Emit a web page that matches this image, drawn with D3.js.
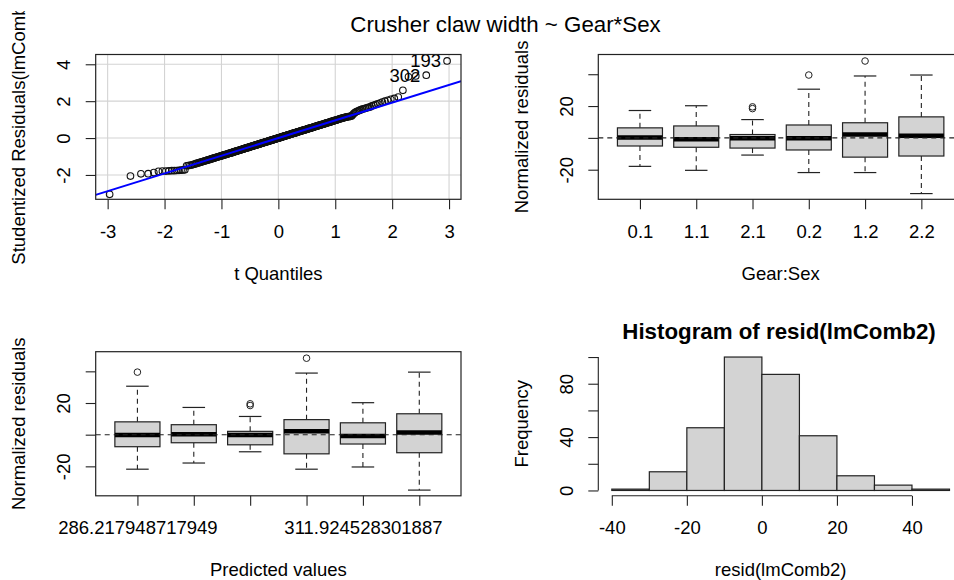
<!DOCTYPE html>
<html><head><meta charset="utf-8">
<script src="https://cdn.jsdelivr.net/npm/d3@7"></script>
<style>
body{margin:0;background:#fff}
svg{display:block}
text{font-family:"Liberation Sans",Arial,sans-serif;fill:#000}
</style>
</head><body>
<svg id="c" width="954" height="580"></svg>
<script>
// ---------------- DATA ----------------
const mainTitle = "Crusher claw width ~ Gear*Sex";

// sorted studentized residuals (QQ plot, n = 306)
const studRes = [
 -3.05,-2.06,-1.94,-1.93,-1.87,-1.80,-1.79,-1.79,-1.78,-1.77,
 -1.77,-1.76,-1.75,-1.74,-1.73,-1.72,-1.50,-1.49,-1.48,-1.46,
 -1.44,-1.42,-1.39,-1.37,-1.35,-1.33,-1.31,-1.29,-1.27,-1.25,
 -1.23,-1.22,-1.20,-1.18,-1.17,-1.15,-1.13,-1.12,-1.10,-1.09,
 -1.07,-1.06,-1.04,-1.03,-1.02,-1.00,-0.99,-0.98,-0.96,-0.95,
 -0.94,-0.92,-0.91,-0.90,-0.89,-0.88,-0.87,-0.85,-0.84,-0.83,
 -0.82,-0.81,-0.80,-0.79,-0.78,-0.76,-0.75,-0.74,-0.73,-0.72,
 -0.71,-0.70,-0.69,-0.68,-0.67,-0.66,-0.65,-0.64,-0.63,-0.62,
 -0.61,-0.60,-0.59,-0.58,-0.57,-0.56,-0.55,-0.54,-0.53,-0.52,
 -0.52,-0.51,-0.50,-0.49,-0.48,-0.47,-0.46,-0.45,-0.44,-0.43,
 -0.43,-0.42,-0.41,-0.40,-0.39,-0.38,-0.37,-0.37,-0.36,-0.35,
 -0.34,-0.33,-0.32,-0.32,-0.31,-0.30,-0.29,-0.28,-0.27,-0.27,
 -0.26,-0.25,-0.24,-0.23,-0.22,-0.22,-0.21,-0.20,-0.19,-0.19,
 -0.18,-0.17,-0.16,-0.15,-0.14,-0.14,-0.13,-0.12,-0.11,-0.11,
 -0.10,-0.09,-0.08,-0.07,-0.07,-0.06,-0.05,-0.04,-0.03,-0.03,
 -0.02,-0.01,0.00,0.01,0.01,0.02,0.03,0.04,0.04,0.05,
 0.06,0.07,0.08,0.09,0.09,0.10,0.11,0.12,0.12,0.13,
 0.14,0.15,0.16,0.17,0.17,0.18,0.19,0.20,0.20,0.21,
 0.22,0.23,0.24,0.25,0.25,0.26,0.27,0.28,0.28,0.29,
 0.30,0.31,0.32,0.33,0.34,0.34,0.35,0.36,0.37,0.38,
 0.39,0.40,0.40,0.41,0.42,0.43,0.44,0.45,0.45,0.46,
 0.47,0.48,0.49,0.50,0.51,0.52,0.53,0.53,0.54,0.55,
 0.56,0.57,0.58,0.59,0.60,0.61,0.62,0.63,0.64,0.65,
 0.66,0.67,0.68,0.69,0.70,0.71,0.72,0.73,0.74,0.75,
 0.76,0.77,0.78,0.80,0.81,0.82,0.83,0.84,0.85,0.86,
 0.87,0.89,0.90,0.91,0.92,0.94,0.95,0.96,0.97,0.99,
 1.00,1.02,1.03,1.05,1.06,1.07,1.09,1.10,1.11,1.13,
 1.14,1.15,1.16,1.17,1.18,1.20,1.26,1.33,1.38,1.42,
 1.45,1.48,1.51,1.54,1.57,1.59,1.61,1.64,1.66,1.69,
 1.74,1.78,1.82,1.86,1.90,1.95,2.00,2.05,2.10,2.15,
 2.22,2.59,3.32,3.37,3.41,4.18
];
const tDf = 299;
const qqLineSlope = 0.96, qqLineIntercept = 0.0;
const qqPointLabels = [{rank: 306, label: "193"}, {rank: 305, label: "302"}];
const qqXDomain = [-3.21, 3.21], qqYDomain = [-3.32, 4.53];
const qqXTicks = [-3, -2, -1, 0, 1, 2, 3];
const qqYTicks = [-2, 0, 2, 4];
const qqXTitle = "t Quantiles";
const qqYTitle = "Studentized Residuals(lmComb2)";

// boxplots of normalized residuals by Gear:Sex
const groupLabels  = ["0.1", "1.1", "2.1", "0.2", "1.2", "2.2"];
const whiskerLow   = [-17.9, -20.4, -10.8, -21.8, -21.8, -35.0];
const quartile1    = [ -5.1,  -5.9,  -6.4,  -7.6, -12.1, -11.4];
const medians      = [  0.3,  -0.9,  -0.2,  -0.2,   2.2,   1.3];
const quartile3    = [  6.3,   7.5,   2.1,   8.1,   9.5,  13.2];
const whiskerHigh  = [ 17.2,  20.2,  11.5,  30.6,  38.9,  39.5];
const outliers     = [[], [], [18.4, 19.5], [39.5], [48.3], []];
const resYDomain = [-38.6, 52.4];
const resYTicks = [-20, 0, 20, 40];
const resYTickLabels = ["-20", "", "20", ""];
const resYTitle = "Normalized residuals";
const gearSexTitle = "Gear:Sex";
// order of groups by predicted value, and the predicted-value tick labels R kept
const predictedOrder = [3, 0, 2, 4, 1, 5];
const predictedLabels = ["286.217948717949", "", "", "", "311.924528301887", ""];
const predictedTitle = "Predicted values";

// histogram of resid(lmComb2)
const histTitle = "Histogram of resid(lmComb2)";
const histBreaks = [-40, -30, -20, -10, 0, 10, 20, 30, 40, 50];
const histCounts = [1, 14, 47, 100, 87, 41, 11, 4, 1];
const histXTicks = [-40, -20, 0, 20, 40];
const histXTickLabels = ["-40", "-20", "0", "20", "40"];
const histYTicks = [0, 20, 40, 60, 80, 100];
const histYTickLabels = ["0", "", "40", "", "80", ""];
const histXTitle = "resid(lmComb2)";
const histYTitle = "Frequency";

// ---------------- HELPERS ----------------
const FONT = '"Liberation Sans", Arial, sans-serif';
const FS = 18.5, FT = 22.3;
const ink = "#222";
const svg = d3.select("#c");
const Lc = {x0: 95.7, x1: 461}, Rc = {x0: 598.3, x1: 963};
const Tr = {y0: 54.5, y1: 199.3}, Br = {y0: 351.7, y1: 495.8};

function qnorm(p) {
  const a=[-3.969683028665376e+01,2.209460984245205e+02,-2.759285104469687e+02,1.383577518672690e+02,-3.066479806614716e+01,2.506628277459239e+00];
  const b=[-5.447609879822406e+01,1.615858368580409e+02,-1.556989798598866e+02,6.680131188771972e+01,-1.328068155288572e+01];
  const c=[-7.784894002430293e-03,-3.223964580411365e-01,-2.400758277161838e+00,-2.549732539343734e+00,4.374664141464968e+00,2.938163982698783e+00];
  const d=[7.784695709041462e-03,3.224671290700398e-01,2.445134137142996e+00,3.754408661907416e+00];
  const pl=0.02425;
  let q,r;
  if(p<pl){q=Math.sqrt(-2*Math.log(p));return (((((c[0]*q+c[1])*q+c[2])*q+c[3])*q+c[4])*q+c[5])/((((d[0]*q+d[1])*q+d[2])*q+d[3])*q+1);}
  if(p>1-pl){q=Math.sqrt(-2*Math.log(1-p));return -(((((c[0]*q+c[1])*q+c[2])*q+c[3])*q+c[4])*q+c[5])/((((d[0]*q+d[1])*q+d[2])*q+d[3])*q+1);}
  q=p-0.5;r=q*q;
  return (((((a[0]*r+a[1])*r+a[2])*r+a[3])*r+a[4])*r+a[5])*q/(((((b[0]*r+b[1])*r+b[2])*r+b[3])*r+b[4])*r+1);
}
function qt(p, df) {
  const z = qnorm(p), z3 = z*z*z, z5 = z3*z*z;
  return z + (z3+z)/(4*df) + (5*z5+16*z3+3*z)/(96*df*df);
}

function xAxis(scale, ticks, labels, y, lineFromTo) {
  const ax = d3.axisBottom(scale).tickValues(ticks).tickSize(10).tickFormat((d,i)=>labels[i]);
  const g = svg.append("g").attr("transform", `translate(0,${y})`).call(ax)
    .attr("font-size", FS).attr("font-family", FONT);
  g.select(".domain").remove();
  g.selectAll(".tick line").attr("stroke", ink).attr("stroke-width", 1.1);
  g.selectAll(".tick text").attr("y", 38.3).attr("dy", null).attr("fill", "#000");
  if (lineFromTo) g.append("line").attr("x1", scale(lineFromTo[0])).attr("x2", scale(lineFromTo[1]))
      .attr("stroke", ink).attr("stroke-width", 1.1);
}
function yAxis(scale, ticks, labels, x, lineFromTo) {
  const ax = d3.axisLeft(scale).tickValues(ticks).tickSize(10).tickFormat((d,i)=>labels[i]);
  const g = svg.append("g").attr("transform", `translate(${x},0)`).call(ax)
    .attr("font-size", FS).attr("font-family", FONT);
  g.select(".domain").remove();
  g.selectAll(".tick line").attr("stroke", ink).attr("stroke-width", 1.1);
  g.selectAll(".tick text").attr("x", 0).attr("dy", null).attr("fill", "#000")
    .attr("text-anchor", "middle").attr("transform", "translate(-25.5,0) rotate(-90)");
  if (lineFromTo) g.append("line").attr("y1", scale(lineFromTo[0])).attr("y2", scale(lineFromTo[1]))
      .attr("stroke", ink).attr("stroke-width", 1.1);
}
function frame(c, r) {
  svg.append("rect").attr("x", c.x0).attr("y", r.y0).attr("width", c.x1-c.x0).attr("height", r.y1-r.y0)
    .attr("fill", "none").attr("stroke", ink).attr("stroke-width", 1.2);
}
function xTitle(txt, c, r) {
  svg.append("text").attr("x", (c.x0+c.x1)/2).attr("y", r.y1+80.5).attr("text-anchor", "middle")
    .attr("font-size", FS).text(txt);
}
function yTitle(txt, c, r, clip) {
  const t = svg.append("text").attr("text-anchor", "middle").attr("font-size", FS)
    .attr("transform", `translate(${c.x0-70.5},${(r.y0+r.y1)/2}) rotate(-90)`).text(txt);
  if (clip) {
    const g = svg.append("g").attr("clip-path", "url(#clipTL)");
    g.node().appendChild(t.node());
  }
}
svg.append("defs").append("clipPath").attr("id", "clipTL")
  .append("rect").attr("x", 0).attr("y", 11).attr("width", 480).attr("height", 280);

// ---------------- MAIN TITLE ----------------
svg.append("text").attr("x", 505.5).attr("y", 31.5).attr("text-anchor", "middle")
  .attr("font-size", FT).text(mainTitle);

// ---------------- PANEL 1: QQ plot ----------------
{
  const n = studRes.length;
  const pts = studRes.map((v, i) => ({x: qt((i + 0.5) / n, tDf), y: v, rank: i + 1}));
  const xs = d3.scaleLinear().domain(qqXDomain).range([Lc.x0, Lc.x1]);
  const ys = d3.scaleLinear().domain(qqYDomain).range([Tr.y1, Tr.y0]);
  const grid = svg.append("g").attr("stroke", "#d3d3d3").attr("stroke-width", 1.1);
  qqXTicks.forEach(t => grid.append("line").attr("x1", xs(t)).attr("x2", xs(t)).attr("y1", Tr.y0).attr("y2", Tr.y1));
  qqYTicks.forEach(t => grid.append("line").attr("y1", ys(t)).attr("y2", ys(t)).attr("x1", Lc.x0).attr("x2", Lc.x1));
  svg.append("g").selectAll("circle").data(pts).join("circle")
    .attr("cx", d => xs(d.x)).attr("cy", d => ys(d.y)).attr("r", 3.3)
    .attr("fill", "none").attr("stroke", "#111").attr("stroke-width", 1.1);
  svg.append("defs").append("clipPath").attr("id", "clipQQ").append("rect")
    .attr("x", Lc.x0).attr("y", Tr.y0).attr("width", Lc.x1 - Lc.x0).attr("height", Tr.y1 - Tr.y0);
  svg.append("line").attr("clip-path", "url(#clipQQ)")
    .attr("x1", xs(qqXDomain[0])).attr("y1", ys(qqLineIntercept + qqLineSlope * qqXDomain[0]))
    .attr("x2", xs(qqXDomain[1])).attr("y2", ys(qqLineIntercept + qqLineSlope * qqXDomain[1]))
    .attr("stroke", "#0000ff").attr("stroke-width", 2);
  qqPointLabels.forEach(l => {
    const p = pts[l.rank - 1];
    svg.append("text").attr("x", xs(p.x) - 6).attr("y", ys(p.y)).attr("dy", "0.35em")
      .attr("text-anchor", "end").attr("font-size", FS).text(l.label);
  });
  frame(Lc, Tr);
  xAxis(xs, qqXTicks, qqXTicks.map(String), Tr.y1);
  yAxis(ys, qqYTicks, qqYTicks.map(String), Lc.x0);
  xTitle(qqXTitle, Lc, Tr);
  yTitle(qqYTitle, Lc, Tr, true);
}

// ---------------- BOX PANELS ----------------
function boxPanel(c, r, order, tickLabels, xt) {
  const xs = d3.scaleLinear().domain([0.26, 6.74]).range([c.x0, c.x1]);
  const ys = d3.scaleLinear().domain(resYDomain).range([r.y1, r.y0]);
  const unit = xs(1) - xs(0);
  const bw = 0.8 * unit / 2, cw = 0.4 * unit / 2;
  const g = svg.append("g");
  order.forEach((gi, k) => {
    const cx = xs(k + 1);
    g.append("line").attr("x1", cx).attr("x2", cx).attr("y1", ys(quartile3[gi])).attr("y2", ys(whiskerHigh[gi]))
      .attr("stroke", ink).attr("stroke-width", 1.1).attr("stroke-dasharray", "5,4");
    g.append("line").attr("x1", cx).attr("x2", cx).attr("y1", ys(quartile1[gi])).attr("y2", ys(whiskerLow[gi]))
      .attr("stroke", ink).attr("stroke-width", 1.1).attr("stroke-dasharray", "5,4");
    [whiskerHigh[gi], whiskerLow[gi]].forEach(v =>
      g.append("line").attr("x1", cx - cw).attr("x2", cx + cw).attr("y1", ys(v)).attr("y2", ys(v))
        .attr("stroke", ink).attr("stroke-width", 1.2));
    g.append("rect").attr("x", cx - bw).attr("width", 2 * bw)
      .attr("y", ys(quartile3[gi])).attr("height", ys(quartile1[gi]) - ys(quartile3[gi]))
      .attr("fill", "#d3d3d3").attr("stroke", ink).attr("stroke-width", 1.2);
    g.append("line").attr("x1", cx - bw).attr("x2", cx + bw).attr("y1", ys(medians[gi])).attr("y2", ys(medians[gi]))
      .attr("stroke", "#000").attr("stroke-width", 4.5);
    outliers[gi].forEach(v => g.append("circle").attr("cx", cx).attr("cy", ys(v)).attr("r", 3.3)
      .attr("fill", "none").attr("stroke", ink).attr("stroke-width", 1));
  });
  svg.append("line").attr("x1", c.x0).attr("x2", c.x1).attr("y1", ys(0)).attr("y2", ys(0))
    .attr("stroke", ink).attr("stroke-width", 1.1).attr("stroke-dasharray", "5,4");
  frame(c, r);
  xAxis(xs, order.map((d, k) => k + 1), tickLabels, r.y1);
  yAxis(ys, resYTicks, resYTickLabels, c.x0);
  xTitle(xt, c, r);
  yTitle(resYTitle, c, r, false);
}
boxPanel(Rc, Tr, [0, 1, 2, 3, 4, 5], groupLabels, gearSexTitle);
boxPanel(Lc, Br, predictedOrder, predictedLabels, predictedTitle);

// ---------------- HISTOGRAM ----------------
{
  const xs = d3.scaleLinear().domain([-43.6, 53.6]).range([Rc.x0, Rc.x1]);
  const ys = d3.scaleLinear().domain([-4, 104]).range([Br.y1, Br.y0]);
  const bins = histCounts.map((cnt, i) => ({x0: histBreaks[i], x1: histBreaks[i + 1], n: cnt}));
  svg.append("g").selectAll("rect").data(bins).join("rect")
    .attr("x", d => xs(d.x0)).attr("width", d => xs(d.x1) - xs(d.x0))
    .attr("y", d => ys(d.n)).attr("height", d => ys(0) - ys(d.n))
    .attr("fill", "#d3d3d3").attr("stroke", ink).attr("stroke-width", 1.2);
  xAxis(xs, histXTicks, histXTickLabels, Br.y1, [histXTicks[0], histXTicks[histXTicks.length - 1]]);
  yAxis(ys, histYTicks, histYTickLabels, Rc.x0, [histYTicks[0], histYTicks[histYTicks.length - 1]]);
  svg.append("text").attr("x", 779).attr("y", 339).attr("text-anchor", "middle")
    .attr("font-size", FT).attr("font-weight", "bold").text(histTitle);
  xTitle(histXTitle, Rc, Br);
  yTitle(histYTitle, Rc, Br, false);
}
</script>
</body></html>
